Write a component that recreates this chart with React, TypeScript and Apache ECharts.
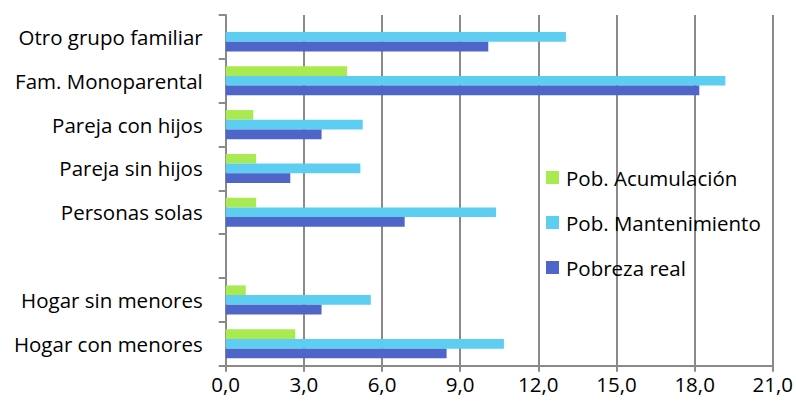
import React, { useEffect, useRef } from "react";
import * as echarts from "echarts";

const categories = [
  "Hogar con menores",
  "Hogar sin menores",
  "",
  "Personas solas",
  "Pareja sin hijos",
  "Pareja con hijos",
  "Fam. Monoparental",
  "Otro grupo familiar",
];
const pobrezaReal = [8.48, 3.68, null, 6.87, 2.48, 3.68, 18.18, 10.08];
const pobMantenimiento = [10.68, 5.57, null, 10.38, 5.17, 5.26, 19.18, 13.06];
const pobAcumulacion = [2.67, 0.77, null, 1.17, 1.17, 1.06, 4.66, 0];
const xTicks = { min: 0, max: 21, interval: 3 };

const FONT = "Open Sans";
const FS = 20.5;

export default function App() {
  const ref = useRef<HTMLDivElement>(null);
  useEffect(() => {
    if (!ref.current) return;
    const chart = echarts.init(ref.current, null, { renderer: "svg" });
    const barStyle = (color: string) => ({
      type: "bar" as const,
      barWidth: 9.7,
      barGap: "0%",
      itemStyle: { color },
    });
    chart.setOption({
      animation: false,
      textStyle: { fontFamily: FONT },
      grid: { left: 225.7, right: 22.3, top: 15, bottom: 39.3, containLabel: false },
      legend: {
        orient: "vertical",
        left: 541,
        top: 162,
        itemWidth: 13,
        itemHeight: 13,
        itemGap: 24,
        icon: "rect",
        textStyle: { fontFamily: FONT, fontSize: FS, lineHeight: 20, color: "#000", padding: [0, 0, 0, 2] },
        data: ["Pob. Acumulación", "Pob. Mantenimiento", "Pobreza real"],
      },
      xAxis: {
        type: "value",
        min: xTicks.min,
        max: xTicks.max,
        interval: xTicks.interval,
        axisLine: { show: true, lineStyle: { color: "#8a8a8a", width: 2 } },
        axisTick: { show: true, length: 6, lineStyle: { color: "#8a8a8a", width: 2 } },
        splitLine: { show: true, lineStyle: { color: "#8a8a8a", width: 2 } },
        axisLabel: {
          margin: 8,
          fontFamily: FONT,
          fontSize: FS,
          color: "#000",
          formatter: (v: number) => v.toFixed(1).replace(".", ","),
        },
      },
      yAxis: {
        type: "category",
        data: categories,
        axisLine: { show: true, lineStyle: { color: "#8a8a8a", width: 2 } },
        axisTick: { show: true, length: 7, lineStyle: { color: "#8a8a8a", width: 2 } },
        axisLabel: { margin: 23, fontFamily: FONT, fontSize: FS, color: "#000" },
      },
      series: [
        { name: "Pob. Acumulación", data: pobAcumulacion, ...barStyle("#a8ea50") },
        { name: "Pob. Mantenimiento", data: pobMantenimiento, ...barStyle("#5ecdf2") },
        { name: "Pobreza real", data: pobrezaReal, ...barStyle("#4f66c8") },
      ],
    });
    return () => chart.dispose();
  }, []);
  return <div ref={ref} style={{ width: 796, height: 405, position: "absolute", left: 0, top: 0 }} />;
}
